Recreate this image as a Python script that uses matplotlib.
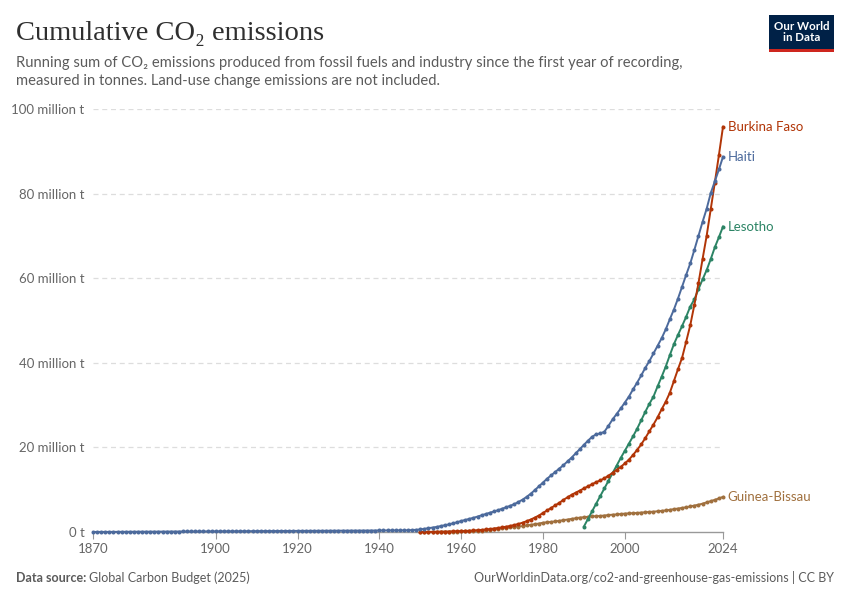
import numpy as np
import matplotlib
matplotlib.use("Agg")
import matplotlib.pyplot as plt
from matplotlib.patches import Rectangle

# Config
OUTPUT_FILE = "out.png"
SANS = ["Lato", "DejaVu Sans"]
SERIF = ["Liberation Serif", "DejaVu Serif"]
GRAY_TEXT = "#5b5b5b"

# Data (million tonnes, cumulative)
haiti_years = list(range(1870, 2025))
haiti_values = [
    0.01, 0.01, 0.02, 0.02, 0.03, 0.03, 0.04, 0.04, 0.05, 0.05,
    0.06, 0.06, 0.07, 0.07, 0.08, 0.08, 0.09, 0.09, 0.10, 0.10,
    0.11, 0.11, 0.12, 0.12, 0.13, 0.13, 0.14, 0.14, 0.15, 0.15,
    0.16, 0.16, 0.17, 0.17, 0.18, 0.18, 0.19, 0.19, 0.20, 0.20,
    0.21, 0.21, 0.22, 0.22, 0.23, 0.23, 0.24, 0.24, 0.25, 0.25,
    0.26, 0.26, 0.27, 0.27, 0.28, 0.28, 0.29, 0.29, 0.30, 0.30,
    0.31, 0.31, 0.32, 0.32, 0.33, 0.33, 0.34, 0.34, 0.35, 0.35,
    0.36, 0.36, 0.37, 0.37, 0.38, 0.38, 0.39, 0.40, 0.45, 0.52,
    0.60, 0.75, 0.90, 1.05, 1.20, 1.40, 1.60, 1.80, 2.05, 2.30,
    2.60, 2.85, 3.10, 3.35, 3.65, 3.95, 4.25, 4.55, 4.85, 5.15,
    5.50, 5.85, 6.20, 6.60, 7.10, 7.65, 8.30, 9.05, 9.90, 10.8,
    11.7, 12.6, 13.4, 14.2, 15.0, 15.8, 16.7, 17.6, 18.6, 19.6,
    20.6, 21.6, 22.5, 23.1, 23.3, 23.7, 25.1, 26.6, 27.9, 29.2,
    30.6, 32.0, 33.7, 35.3, 37.0, 38.8, 40.4, 42.2, 44.0, 45.8,
    47.9, 50.3, 52.6, 55.2, 58.0, 60.8, 63.5, 66.7, 70.0, 73.3,
    76.4, 80.1, 82.9, 85.7, 88.7,
]

burkina_years = list(range(1950, 2025))
burkina_values = [
    0.00, 0.01, 0.02, 0.03, 0.05, 0.07, 0.09, 0.11, 0.14, 0.17,
    0.20, 0.25, 0.30, 0.36, 0.43, 0.50, 0.60, 0.70, 0.82, 0.95,
    1.10, 1.25, 1.45, 1.65, 1.90, 2.20, 2.55, 2.95, 3.40, 3.90,
    4.50, 5.10, 5.70, 6.30, 6.90, 7.60, 8.20, 8.80, 9.30, 9.80,
    10.3, 10.8, 11.3, 11.8, 12.2, 12.7, 13.3, 14.0, 14.7, 15.4,
    16.2, 17.1, 18.2, 19.4, 20.7, 22.2, 23.8, 25.4, 27.1, 29.0,
    30.8, 32.9, 35.7, 38.5, 41.2, 45.0, 48.9, 53.7, 58.8, 64.5,
    70.0, 76.3, 82.6, 89.1, 95.8,
]

lesotho_years = list(range(1990, 2025))
lesotho_values = [
    1.3, 3.1, 4.9, 6.7, 8.5, 10.3, 12.1, 13.9, 15.7, 17.5,
    19.2, 20.9, 22.6, 24.4, 26.4, 28.4, 30.3, 32.0, 34.4, 36.7,
    39.1, 41.8, 44.4, 46.6, 48.7, 50.9, 53.3, 55.0, 57.4, 59.7,
    61.9, 64.5, 67.3, 69.7, 72.2,
]

guinea_years = list(range(1950, 2025))
guinea_values = [
    0.00, 0.01, 0.02, 0.03, 0.04, 0.05, 0.06, 0.07, 0.09, 0.11,
    0.13, 0.16, 0.19, 0.23, 0.28, 0.34, 0.42, 0.52, 0.64, 0.77,
    0.90, 1.00, 1.10, 1.20, 1.30, 1.40, 1.55, 1.70, 1.85, 2.00,
    2.20, 2.30, 2.40, 2.50, 2.65, 2.80, 2.95, 3.10, 3.25, 3.40,
    3.50, 3.60, 3.70, 3.75, 3.80, 3.90, 4.00, 4.10, 4.15, 4.25,
    4.35, 4.40, 4.45, 4.50, 4.60, 4.65, 4.75, 4.80, 4.90, 5.00,
    5.10, 5.25, 5.40, 5.55, 5.70, 5.85, 6.05, 6.25, 6.45, 6.70,
    7.00, 7.30, 7.60, 7.95, 8.30,
]

x_ticks = [1870, 1900, 1920, 1940, 1960, 1980, 2000, 2024]
y_ticks = [0, 20, 40, 60, 80, 100]
y_tick_labels = ["0 t", "20 million t", "40 million t", "60 million t",
                 "80 million t", "100 million t"]

# name, years, values, colour
series = [
    ("Guinea-Bissau", guinea_years, guinea_values, "#a0703e"),
    ("Lesotho", lesotho_years, lesotho_values, "#2c8465"),
    ("Burkina Faso", burkina_years, burkina_values, "#b13507"),
    ("Haiti", haiti_years, haiti_values, "#4c6a9c"),
]


def main():
    fig = plt.figure(figsize=(8.5, 6), dpi=100)
    ax = fig.add_axes([93 / 850, 68 / 600, 630 / 850, 423 / 600])

    for name, yrs, vals, color in series:
        ax.plot(yrs, vals, color=color, lw=1.4, marker="o", ms=2.9,
                mew=0, zorder=3, clip_on=False)
        ax.annotate(name, xy=(yrs[-1], vals[-1]), xytext=(3.5, 0),
                    textcoords="offset points", va="center", ha="left",
                    color=color, fontsize=9.5, family=SANS)

    ax.set_xlim(1870, 2024)
    ax.set_ylim(0, 100)
    ax.set_xticks(x_ticks)
    ax.set_xticklabels([str(t) for t in x_ticks], family=SANS,
                       fontsize=9.5, color="#666666")
    ax.set_yticks(y_ticks)
    ax.set_yticklabels(y_tick_labels, family=SANS, fontsize=9.5,
                       color="#666666")
    ax.tick_params(axis="y", length=0, pad=6)
    ax.tick_params(axis="x", length=5, color="#999999", pad=3)

    for s in ["top", "right", "left"]:
        ax.spines[s].set_visible(False)
    ax.spines["bottom"].set_color("#999999")
    ax.spines["bottom"].set_linewidth(1)

    for yv in y_ticks[1:]:
        ax.axhline(yv, color="#dddddd", lw=0.9, ls=(0, (4, 3)), zorder=1)

    # Title and subtitle
    fig.text(16 / 850, 1 - 40 / 600, "Cumulative CO\u2082 emissions",
             family=SERIF, fontsize=20.5, color="#2f2f2f", va="baseline")
    fig.text(16 / 850, 1 - 67 / 600,
             "Running sum of CO\u2082 emissions produced from fossil fuels and "
             "industry since the first year of recording,",
             family=SANS, fontsize=10.6, color=GRAY_TEXT, va="baseline")
    fig.text(16 / 850, 1 - 85 / 600,
             "measured in tonnes. Land-use change emissions are not included.",
             family=SANS, fontsize=10.6, color=GRAY_TEXT, va="baseline")

    # Logo
    fig.patches.append(Rectangle((769 / 850, 1 - 52 / 600), 65 / 850,
                                 37 / 600, transform=fig.transFigure,
                                 facecolor="#002147", edgecolor="none"))
    fig.patches.append(Rectangle((769 / 850, 1 - 52 / 600), 65 / 850,
                                 3 / 600, transform=fig.transFigure,
                                 facecolor="#ce261e", edgecolor="none"))
    fig.text(801.5 / 850, 1 - 32 / 600, "Our World\nin Data", family=SANS,
             fontsize=8.3, color="white", ha="center", va="center",
             linespacing=1.0, fontweight="bold")

    # Footer
    src = fig.text(16 / 850, 1 - 582 / 600, "Data source:", family=SANS,
                   fontsize=9, color=GRAY_TEXT, fontweight="bold",
                   va="baseline")
    fig.canvas.draw()
    bb = src.get_window_extent()
    fig.text((bb.x1 + 3) / 850, 1 - 582 / 600, "Global Carbon Budget (2025)",
             family=SANS, fontsize=9, color=GRAY_TEXT, va="baseline")
    fig.text(834 / 850, 1 - 582 / 600,
             "OurWorldinData.org/co2-and-greenhouse-gas-emissions | CC BY",
             family=SANS, fontsize=9, color=GRAY_TEXT, ha="right",
             va="baseline")

    fig.savefig(OUTPUT_FILE, dpi=100)
    plt.close(fig)


if __name__ == "__main__":
    main()
